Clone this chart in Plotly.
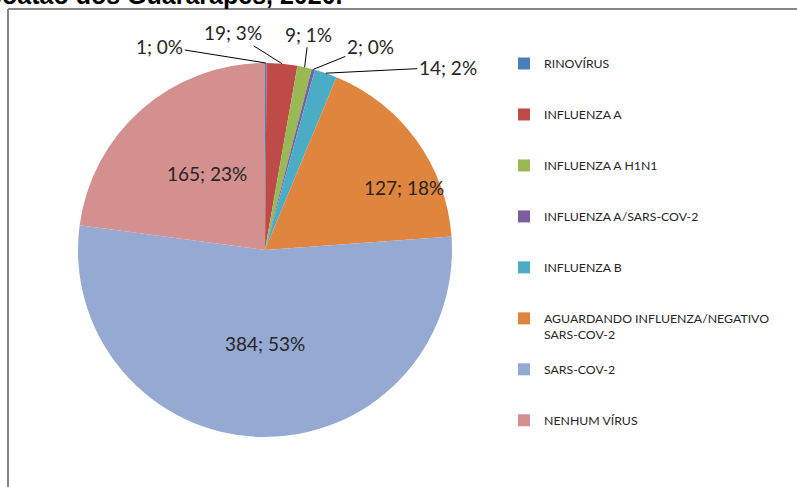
import math
import plotly.graph_objects as go

# data
categorias = [
    "RINOVÍRUS",
    "INFLUENZA A",
    "INFLUENZA A H1N1",
    "INFLUENZA A/SARS-COV-2",
    "INFLUENZA B",
    "AGUARDANDO INFLUENZA/NEGATIVO<br>SARS-COV-2",
    "SARS-COV-2",
    "NENHUM VÍRUS",
]
casos = [1, 19, 9, 2, 14, 127, 384, 165]
cores = ["#4A7EBB", "#BE4B48", "#98B954", "#7D5FA0", "#4BACC6",
         "#E0853D", "#94AAD3", "#D4908E"]

W, H = 797, 487
CX, CY, R = 265, 250, 187  # pie center / radius in pixels


def px_x(x):
    return x / W


def px_y(y):
    return 1 - y / H


# pad legend labels to get Excel-like spacing
legend_labels = []
for c in categorias:
    n = c.count("<br>") + 1
    legend_labels.append(c + "<br>&nbsp;" * (3 - n))

total = sum(casos)
textos = [f"{v}; {round(100 * v / total):.0f}%" for v in casos]

fig = go.Figure(go.Pie(
    labels=legend_labels,
    values=casos,
    sort=False,
    direction="clockwise",
    rotation=0,
    marker=dict(colors=cores, line=dict(width=0)),
    textinfo="none",
    hoverinfo="label+value+percent",
    domain=dict(x=[px_x(CX - R), px_x(CX + R)], y=[px_y(CY + R), px_y(CY - R)]),
))

# label offsets (text position relative to slice edge / pie centre)
offsets_out = {0: (-106, -17), 1: (-49, -31), 2: (4, -33), 3: (57, -23), 4: (122, -6)}
offsets_in = {5: (139, -62), 6: (-42, 107), 7: (-100, -90)}

annotations = []
cum = 0
for i, v in enumerate(casos):
    mid = (cum + v / 2) / total * 2 * math.pi
    cum += v
    if i in offsets_out:
        ex = CX + R * math.sin(mid)
        ey = CY - R * math.cos(mid)
        ax, ay = offsets_out[i]
        annotations.append(dict(
            x=px_x(ex), y=px_y(ey), xref="paper", yref="paper",
            text=textos[i], showarrow=True, arrowhead=0, arrowwidth=1,
            arrowcolor="#000000", standoff=0, startstandoff=0, ax=ax, ay=ay,
            font=dict(size=19, color="#262626"),
        ))
    else:
        dx, dy = offsets_in[i]
        annotations.append(dict(
            x=px_x(CX + dx), y=px_y(CY + dy), xref="paper", yref="paper",
            text=textos[i], showarrow=False,
            font=dict(size=19, color="#262626"),
        ))

# cropped title
annotations.append(dict(
    x=px_x(345), y=px_y(11), xref="paper", yref="paper",
    xanchor="right", yanchor="bottom", showarrow=False,
    text="<b>Jaboatão dos Guararapes, 2020.</b>",
    font=dict(size=25, color="#000000", family="Liberation Sans, Arial, sans-serif"),
))

fig.update_layout(
    width=W, height=H,
    margin=dict(l=0, r=0, t=0, b=0),
    paper_bgcolor="white",
    plot_bgcolor="white",
    font=dict(family="Lato, Calibri, sans-serif", color="#262626"),
    showlegend=True,
    legend=dict(
        x=px_x(504), y=px_y(49), xanchor="left", yanchor="top",
        font=dict(size=12.3, color="#262626"),
        valign="top", traceorder="normal", bgcolor="rgba(0,0,0,0)",
    ),
    annotations=annotations,
    shapes=[
        dict(type="line", xref="paper", yref="paper",
             x0=px_x(8), x1=1.01, y0=px_y(9), y1=px_y(9),
             line=dict(color="#868686", width=2)),
        dict(type="line", xref="paper", yref="paper",
             x0=px_x(8), x1=px_x(8), y0=px_y(9), y1=-0.01,
             line=dict(color="#868686", width=2)),
    ],
)

# page body margin would shift the figure by 8px
fig.write_html("out.html", config={"displayModeBar": False},
               post_script="document.body.style.margin='0';")
